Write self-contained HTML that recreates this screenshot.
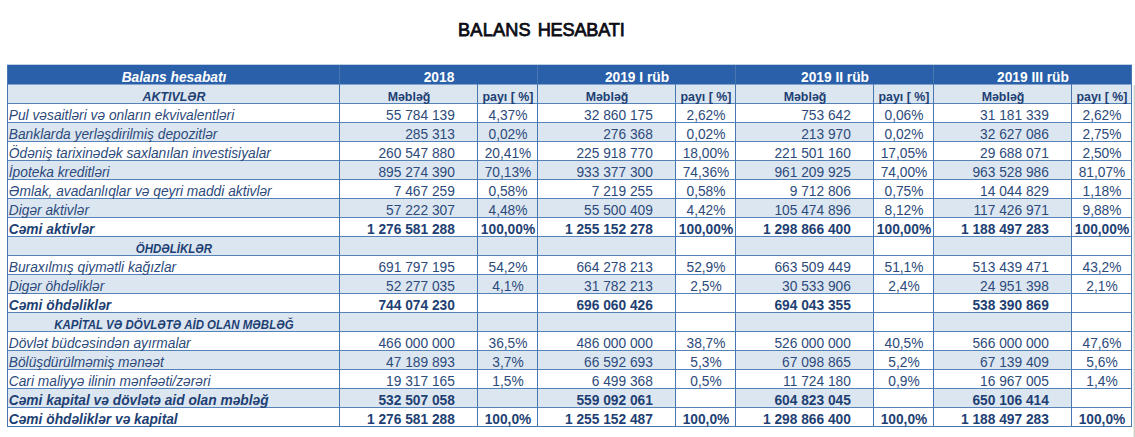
<!DOCTYPE html>
<html lang="az"><head><meta charset="utf-8"><title>Balans hesabatı</title>
<style>
html,body{margin:0;padding:0;background:#fff;}
body{width:1135px;height:437px;position:relative;overflow:hidden;font-family:"Liberation Sans",sans-serif;}
.t{position:absolute;left:457.8px;top:18px;font-weight:normal;font-size:17.9px;line-height:24px;color:#0c0c14;white-space:nowrap;word-spacing:1.6px;-webkit-text-stroke:0.75px #0c0c14;transform-origin:0 0;transform:scaleX(1.016);}
.g{position:absolute;}
.bl{background:#dce6f1;}
.hd{background:#2a60a9;}
.c{position:absolute;height:19px;font-size:13.75px;color:#2c4a7b;white-space:nowrap;}
.c span{position:absolute;left:0;right:0;bottom:-1.5px;line-height:17px;}
.i{font-style:italic;}
.b{font-weight:bold;color:#1e3f73;}
.w{color:#fff;}
.l span{text-align:left;padding-left:0.8px;}
.r span{text-align:right;padding-right:22.1px;}
.m span{text-align:center;padding-left:1px;}
.sec span{font-size:12.6px;transform:scaleX(0.91);bottom:-3.3px;}
.sub span{font-size:12.4px;bottom:-2.7px;}
.v,.h{position:absolute;background:#4876ae;}
.v{width:1px;}
.h{height:1px;}

</style></head><body>
<div class="t"><span style="letter-spacing:0.2px">BALANS</span> <span style="letter-spacing:-0.2px">HESABATI</span></div>
<div class="g" style="left:7px;top:64px;width:1125px;height:1px;background:#bfcfe5"></div>
<div class="g hd" style="left:7px;top:65px;width:1125px;height:19px"></div>
<div class="g bl" style="left:7px;top:84px;width:1124px;height:19px"></div>
<div class="g bl" style="left:7px;top:122px;width:668px;height:19px"></div>
<div class="g bl" style="left:735px;top:122px;width:138px;height:19px"></div>
<div class="g bl" style="left:933px;top:122px;width:138px;height:19px"></div>
<div class="g bl" style="left:7px;top:160px;width:668px;height:19px"></div>
<div class="g bl" style="left:735px;top:160px;width:138px;height:19px"></div>
<div class="g bl" style="left:933px;top:160px;width:138px;height:19px"></div>
<div class="g bl" style="left:7px;top:198px;width:668px;height:19px"></div>
<div class="g bl" style="left:735px;top:198px;width:138px;height:19px"></div>
<div class="g bl" style="left:933px;top:198px;width:138px;height:19px"></div>
<div class="g bl" style="left:7px;top:236px;width:668px;height:19px"></div>
<div class="g bl" style="left:735px;top:236px;width:138px;height:19px"></div>
<div class="g bl" style="left:933px;top:236px;width:138px;height:19px"></div>
<div class="g bl" style="left:7px;top:274px;width:668px;height:19px"></div>
<div class="g bl" style="left:735px;top:274px;width:138px;height:19px"></div>
<div class="g bl" style="left:933px;top:274px;width:138px;height:19px"></div>
<div class="g bl" style="left:7px;top:312px;width:668px;height:19px"></div>
<div class="g bl" style="left:735px;top:312px;width:138px;height:19px"></div>
<div class="g bl" style="left:933px;top:312px;width:138px;height:19px"></div>
<div class="g bl" style="left:7px;top:350px;width:668px;height:19px"></div>
<div class="g bl" style="left:735px;top:350px;width:138px;height:19px"></div>
<div class="g bl" style="left:933px;top:350px;width:138px;height:19px"></div>
<div class="g bl" style="left:7px;top:388px;width:668px;height:19px"></div>
<div class="g bl" style="left:735px;top:388px;width:138px;height:19px"></div>
<div class="g bl" style="left:933px;top:388px;width:138px;height:19px"></div>
<div class="h" style="left:7px;top:84px;width:1125px;background:#83a3cd"></div>
<div class="h" style="left:7px;top:103px;width:1125px;background:#5582b8"></div>
<div class="h" style="left:7px;top:122px;width:1125px;background:#5582b8"></div>
<div class="h" style="left:7px;top:141px;width:1125px;background:#5582b8"></div>
<div class="h" style="left:7px;top:160px;width:1125px;background:#5582b8"></div>
<div class="h" style="left:7px;top:179px;width:1125px;background:#5582b8"></div>
<div class="h" style="left:7px;top:198px;width:1125px;background:#5582b8"></div>
<div class="h" style="left:7px;top:217px;width:1125px;background:#5582b8"></div>
<div class="h" style="left:7px;top:236px;width:1125px;background:#5582b8"></div>
<div class="h" style="left:7px;top:255px;width:1125px;background:#5582b8"></div>
<div class="h" style="left:7px;top:274px;width:1125px;background:#5582b8"></div>
<div class="h" style="left:7px;top:293px;width:1125px;background:#5582b8"></div>
<div class="h" style="left:7px;top:312px;width:1125px;background:#5582b8"></div>
<div class="h" style="left:7px;top:331px;width:1125px;background:#5582b8"></div>
<div class="h" style="left:7px;top:350px;width:1125px;background:#5582b8"></div>
<div class="h" style="left:7px;top:369px;width:1125px;background:#5582b8"></div>
<div class="h" style="left:7px;top:388px;width:1125px;background:#5582b8"></div>
<div class="h" style="left:7px;top:407px;width:1125px;background:#5582b8"></div>
<div class="h" style="left:7px;top:426px;width:1125px;background:#4876ae"></div>
<div class="v" style="left:7px;top:65px;height:362px"></div>
<div class="v" style="left:339px;top:65px;height:362px"></div>
<div class="v" style="left:477px;top:84px;height:343px"></div>
<div class="v" style="left:537px;top:65px;height:362px"></div>
<div class="v" style="left:675px;top:84px;height:343px"></div>
<div class="v" style="left:735px;top:65px;height:362px"></div>
<div class="v" style="left:873px;top:84px;height:343px"></div>
<div class="v" style="left:933px;top:65px;height:362px"></div>
<div class="v" style="left:1071px;top:84px;height:343px"></div>
<div class="v" style="left:1131px;top:65px;height:362px"></div>
<div class="g" style="left:1133px;top:85px;width:1px;height:352px;background:#ecece9"></div>
<div class="g" style="left:1134px;top:85px;width:1px;height:352px;background:#cfcfcb"></div>
<div class="c w b i m" style="left:8px;top:65px;width:331px"><span>Balans hesabatı</span></div>
<div class="c w b m" style="left:340px;top:65px;width:197px"><span>2018</span></div>
<div class="c w b m" style="left:538px;top:65px;width:197px"><span>2019 I rüb</span></div>
<div class="c w b m" style="left:736px;top:65px;width:197px"><span>2019 II rüb</span></div>
<div class="c w b m" style="left:934px;top:65px;width:197px"><span>2019 III rüb</span></div>
<div class="c b i m sub" style="left:8px;top:84px;width:331px"><span>AKTIVLƏR</span></div>
<div class="c b m sub" style="left:340px;top:84px;width:137px"><span>Məbləğ</span></div>
<div class="c b m sub" style="left:478px;top:84px;width:59px"><span>payı [ %]</span></div>
<div class="c b m sub" style="left:538px;top:84px;width:137px"><span>Məbləğ</span></div>
<div class="c b m sub" style="left:676px;top:84px;width:59px"><span>payı [ %]</span></div>
<div class="c b m sub" style="left:736px;top:84px;width:137px"><span>Məbləğ</span></div>
<div class="c b m sub" style="left:874px;top:84px;width:59px"><span>payı [ %]</span></div>
<div class="c b m sub" style="left:934px;top:84px;width:137px"><span>Məbləğ</span></div>
<div class="c b m sub" style="left:1072px;top:84px;width:59px"><span>payı [ %]</span></div>
<div class="c i l" style="left:8px;top:103px;width:331px"><span>Pul vəsaitləri və onların ekvivalentləri</span></div>
<div class="c r" style="left:340px;top:103px;width:137px"><span>55 784 139</span></div>
<div class="c m" style="left:478px;top:103px;width:59px"><span>4,37%</span></div>
<div class="c r" style="left:538px;top:103px;width:137px"><span>32 860 175</span></div>
<div class="c m" style="left:676px;top:103px;width:59px"><span>2,62%</span></div>
<div class="c r" style="left:736px;top:103px;width:137px"><span>753 642</span></div>
<div class="c m" style="left:874px;top:103px;width:59px"><span>0,06%</span></div>
<div class="c r" style="left:934px;top:103px;width:137px"><span>31 181 339</span></div>
<div class="c m" style="left:1072px;top:103px;width:59px"><span>2,62%</span></div>
<div class="c i l" style="left:8px;top:122px;width:331px"><span>Banklarda yerləşdirilmiş depozitlər</span></div>
<div class="c r" style="left:340px;top:122px;width:137px"><span>285 313</span></div>
<div class="c m" style="left:478px;top:122px;width:59px"><span>0,02%</span></div>
<div class="c r" style="left:538px;top:122px;width:137px"><span>276 368</span></div>
<div class="c m" style="left:676px;top:122px;width:59px"><span>0,02%</span></div>
<div class="c r" style="left:736px;top:122px;width:137px"><span>213 970</span></div>
<div class="c m" style="left:874px;top:122px;width:59px"><span>0,02%</span></div>
<div class="c r" style="left:934px;top:122px;width:137px"><span>32 627 086</span></div>
<div class="c m" style="left:1072px;top:122px;width:59px"><span>2,75%</span></div>
<div class="c i l" style="left:8px;top:141px;width:331px"><span>Ödəniş tarixinədək saxlanılan investisiyalar</span></div>
<div class="c r" style="left:340px;top:141px;width:137px"><span>260 547 880</span></div>
<div class="c m" style="left:478px;top:141px;width:59px"><span>20,41%</span></div>
<div class="c r" style="left:538px;top:141px;width:137px"><span>225 918 770</span></div>
<div class="c m" style="left:676px;top:141px;width:59px"><span>18,00%</span></div>
<div class="c r" style="left:736px;top:141px;width:137px"><span>221 501 160</span></div>
<div class="c m" style="left:874px;top:141px;width:59px"><span>17,05%</span></div>
<div class="c r" style="left:934px;top:141px;width:137px"><span>29 688 071</span></div>
<div class="c m" style="left:1072px;top:141px;width:59px"><span>2,50%</span></div>
<div class="c i l" style="left:8px;top:160px;width:331px"><span>İpoteka kreditləri</span></div>
<div class="c r" style="left:340px;top:160px;width:137px"><span>895 274 390</span></div>
<div class="c m" style="left:478px;top:160px;width:59px"><span>70,13%</span></div>
<div class="c r" style="left:538px;top:160px;width:137px"><span>933 377 300</span></div>
<div class="c m" style="left:676px;top:160px;width:59px"><span>74,36%</span></div>
<div class="c r" style="left:736px;top:160px;width:137px"><span>961 209 925</span></div>
<div class="c m" style="left:874px;top:160px;width:59px"><span>74,00%</span></div>
<div class="c r" style="left:934px;top:160px;width:137px"><span>963 528 986</span></div>
<div class="c m" style="left:1072px;top:160px;width:59px"><span>81,07%</span></div>
<div class="c i l" style="left:8px;top:179px;width:331px"><span>Əmlak, avadanlıqlar və qeyri maddi aktivlər</span></div>
<div class="c r" style="left:340px;top:179px;width:137px"><span>7 467 259</span></div>
<div class="c m" style="left:478px;top:179px;width:59px"><span>0,58%</span></div>
<div class="c r" style="left:538px;top:179px;width:137px"><span>7 219 255</span></div>
<div class="c m" style="left:676px;top:179px;width:59px"><span>0,58%</span></div>
<div class="c r" style="left:736px;top:179px;width:137px"><span>9 712 806</span></div>
<div class="c m" style="left:874px;top:179px;width:59px"><span>0,75%</span></div>
<div class="c r" style="left:934px;top:179px;width:137px"><span>14 044 829</span></div>
<div class="c m" style="left:1072px;top:179px;width:59px"><span>1,18%</span></div>
<div class="c i l" style="left:8px;top:198px;width:331px"><span>Digər aktivlər</span></div>
<div class="c r" style="left:340px;top:198px;width:137px"><span>57 222 307</span></div>
<div class="c m" style="left:478px;top:198px;width:59px"><span>4,48%</span></div>
<div class="c r" style="left:538px;top:198px;width:137px"><span>55 500 409</span></div>
<div class="c m" style="left:676px;top:198px;width:59px"><span>4,42%</span></div>
<div class="c r" style="left:736px;top:198px;width:137px"><span>105 474 896</span></div>
<div class="c m" style="left:874px;top:198px;width:59px"><span>8,12%</span></div>
<div class="c r" style="left:934px;top:198px;width:137px"><span>117 426 971</span></div>
<div class="c m" style="left:1072px;top:198px;width:59px"><span>9,88%</span></div>
<div class="c b i l" style="left:8px;top:217px;width:331px"><span>Cəmi aktivlər</span></div>
<div class="c b r" style="left:340px;top:217px;width:137px"><span>1 276 581 288</span></div>
<div class="c b m" style="left:478px;top:217px;width:59px"><span>100,00%</span></div>
<div class="c b r" style="left:538px;top:217px;width:137px"><span>1 255 152 278</span></div>
<div class="c b m" style="left:676px;top:217px;width:59px"><span>100,00%</span></div>
<div class="c b r" style="left:736px;top:217px;width:137px"><span>1 298 866 400</span></div>
<div class="c b m" style="left:874px;top:217px;width:59px"><span>100,00%</span></div>
<div class="c b r" style="left:934px;top:217px;width:137px"><span>1 188 497 283</span></div>
<div class="c b m" style="left:1072px;top:217px;width:59px"><span>100,00%</span></div>
<div class="c b i m sec" style="left:8px;top:236px;width:331px"><span>ÖHDƏLİKLƏR</span></div>
<div class="c i l" style="left:8px;top:255px;width:331px"><span>Buraxılmış qiymətli kağızlar</span></div>
<div class="c r" style="left:340px;top:255px;width:137px"><span>691 797 195</span></div>
<div class="c m" style="left:478px;top:255px;width:59px"><span>54,2%</span></div>
<div class="c r" style="left:538px;top:255px;width:137px"><span>664 278 213</span></div>
<div class="c m" style="left:676px;top:255px;width:59px"><span>52,9%</span></div>
<div class="c r" style="left:736px;top:255px;width:137px"><span>663 509 449</span></div>
<div class="c m" style="left:874px;top:255px;width:59px"><span>51,1%</span></div>
<div class="c r" style="left:934px;top:255px;width:137px"><span>513 439 471</span></div>
<div class="c m" style="left:1072px;top:255px;width:59px"><span>43,2%</span></div>
<div class="c i l" style="left:8px;top:274px;width:331px"><span>Digər öhdəliklər</span></div>
<div class="c r" style="left:340px;top:274px;width:137px"><span>52 277 035</span></div>
<div class="c m" style="left:478px;top:274px;width:59px"><span>4,1%</span></div>
<div class="c r" style="left:538px;top:274px;width:137px"><span>31 782 213</span></div>
<div class="c m" style="left:676px;top:274px;width:59px"><span>2,5%</span></div>
<div class="c r" style="left:736px;top:274px;width:137px"><span>30 533 906</span></div>
<div class="c m" style="left:874px;top:274px;width:59px"><span>2,4%</span></div>
<div class="c r" style="left:934px;top:274px;width:137px"><span>24 951 398</span></div>
<div class="c m" style="left:1072px;top:274px;width:59px"><span>2,1%</span></div>
<div class="c b i l" style="left:8px;top:293px;width:331px"><span>Cəmi öhdəliklər</span></div>
<div class="c b r" style="left:340px;top:293px;width:137px"><span>744 074 230</span></div>
<div class="c b r" style="left:538px;top:293px;width:137px"><span>696 060 426</span></div>
<div class="c b r" style="left:736px;top:293px;width:137px"><span>694 043 355</span></div>
<div class="c b r" style="left:934px;top:293px;width:137px"><span>538 390 869</span></div>
<div class="c b i m sec" style="left:8px;top:312px;width:331px"><span>KAPİTAL VƏ DÖVLƏTƏ AİD OLAN MƏBLƏĞ</span></div>
<div class="c i l" style="left:8px;top:331px;width:331px"><span>Dövlət büdcəsindən ayırmalar</span></div>
<div class="c r" style="left:340px;top:331px;width:137px"><span>466 000 000</span></div>
<div class="c m" style="left:478px;top:331px;width:59px"><span>36,5%</span></div>
<div class="c r" style="left:538px;top:331px;width:137px"><span>486 000 000</span></div>
<div class="c m" style="left:676px;top:331px;width:59px"><span>38,7%</span></div>
<div class="c r" style="left:736px;top:331px;width:137px"><span>526 000 000</span></div>
<div class="c m" style="left:874px;top:331px;width:59px"><span>40,5%</span></div>
<div class="c r" style="left:934px;top:331px;width:137px"><span>566 000 000</span></div>
<div class="c m" style="left:1072px;top:331px;width:59px"><span>47,6%</span></div>
<div class="c i l" style="left:8px;top:350px;width:331px"><span>Bölüşdürülməmiş mənəət</span></div>
<div class="c r" style="left:340px;top:350px;width:137px"><span>47 189 893</span></div>
<div class="c m" style="left:478px;top:350px;width:59px"><span>3,7%</span></div>
<div class="c r" style="left:538px;top:350px;width:137px"><span>66 592 693</span></div>
<div class="c m" style="left:676px;top:350px;width:59px"><span>5,3%</span></div>
<div class="c r" style="left:736px;top:350px;width:137px"><span>67 098 865</span></div>
<div class="c m" style="left:874px;top:350px;width:59px"><span>5,2%</span></div>
<div class="c r" style="left:934px;top:350px;width:137px"><span>67 139 409</span></div>
<div class="c m" style="left:1072px;top:350px;width:59px"><span>5,6%</span></div>
<div class="c i l" style="left:8px;top:369px;width:331px"><span>Cari maliyyə ilinin mənfəəti/zərəri</span></div>
<div class="c r" style="left:340px;top:369px;width:137px"><span>19 317 165</span></div>
<div class="c m" style="left:478px;top:369px;width:59px"><span>1,5%</span></div>
<div class="c r" style="left:538px;top:369px;width:137px"><span>6 499 368</span></div>
<div class="c m" style="left:676px;top:369px;width:59px"><span>0,5%</span></div>
<div class="c r" style="left:736px;top:369px;width:137px"><span>11 724 180</span></div>
<div class="c m" style="left:874px;top:369px;width:59px"><span>0,9%</span></div>
<div class="c r" style="left:934px;top:369px;width:137px"><span>16 967 005</span></div>
<div class="c m" style="left:1072px;top:369px;width:59px"><span>1,4%</span></div>
<div class="c b i l" style="left:8px;top:388px;width:331px"><span>Cəmi kapital və dövlətə aid olan məbləğ</span></div>
<div class="c b r" style="left:340px;top:388px;width:137px"><span>532 507 058</span></div>
<div class="c b r" style="left:538px;top:388px;width:137px"><span>559 092 061</span></div>
<div class="c b r" style="left:736px;top:388px;width:137px"><span>604 823 045</span></div>
<div class="c b r" style="left:934px;top:388px;width:137px"><span>650 106 414</span></div>
<div class="c b i l" style="left:8px;top:407px;width:331px"><span>Cəmi öhdəliklər və kapital</span></div>
<div class="c b r" style="left:340px;top:407px;width:137px"><span>1 276 581 288</span></div>
<div class="c b m" style="left:478px;top:407px;width:59px"><span>100,0%</span></div>
<div class="c b r" style="left:538px;top:407px;width:137px"><span>1 255 152 487</span></div>
<div class="c b m" style="left:676px;top:407px;width:59px"><span>100,0%</span></div>
<div class="c b r" style="left:736px;top:407px;width:137px"><span>1 298 866 400</span></div>
<div class="c b m" style="left:874px;top:407px;width:59px"><span>100,0%</span></div>
<div class="c b r" style="left:934px;top:407px;width:137px"><span>1 188 497 283</span></div>
<div class="c b m" style="left:1072px;top:407px;width:59px"><span>100,0%</span></div>
</body></html>
